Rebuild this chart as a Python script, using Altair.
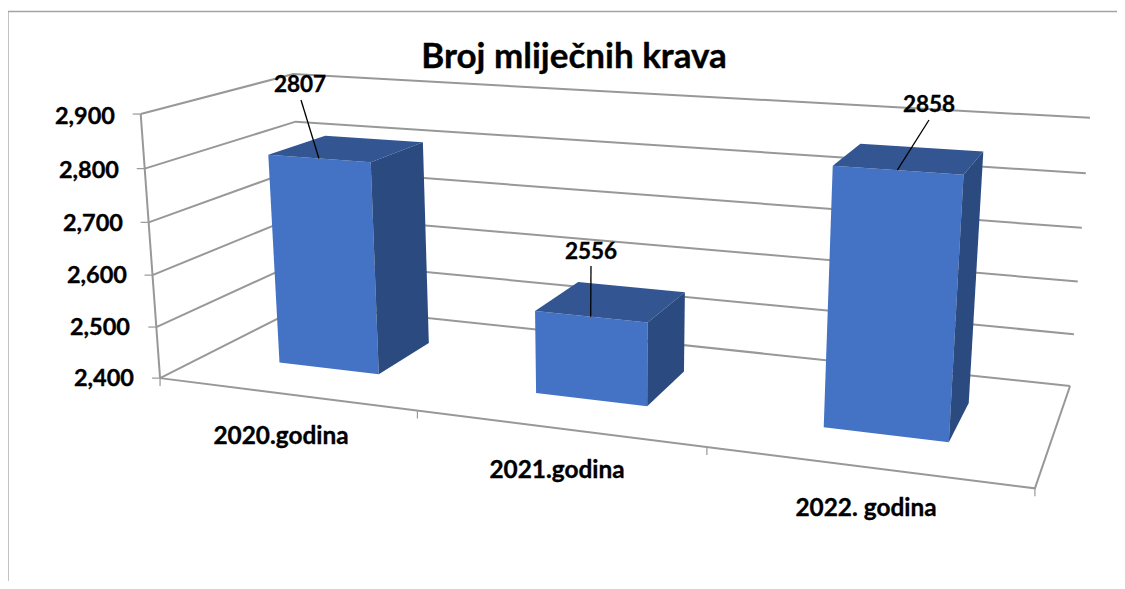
import altair as alt
import numpy as np

TITLE = "Broj mliječnih krava"
categories = ["2020.godina", "2021.godina", "2022. godina"]
values = [2807, 2556, 2858]
axis_ticks = [2400, 2500, 2600, 2700, 2800, 2900]
axis_labels = ["2,400", "2,500", "2,600", "2,700", "2,800", "2,900"]

# --- camera calibration: (category pos, depth, value pos) -> page pixel
cal3d = [(0,0,0),(1,0,0),(1,1,0),(0,1,0),(0,0,1),(0,1,1),(1,1,1),(1/3,0,0),(2/3,0,0)]
cal2d = [(160,378),(1035,488),(1070,386),(305,305),(141,114),(293,74),(1090,118),(417,411),(707,447)]
A, b = [], []
for (u,d,v),(x,y) in zip(cal3d, cal2d):
    A.append([u,d,v,1,0,0,0,0,-x*u,-x*d,-x*v]); b.append(x)
    A.append([0,0,0,0,u,d,v,1,-y*u,-y*d,-y*v]); b.append(y)
p = np.linalg.lstsq(np.array(A,float), np.array(b,float), rcond=None)[0]
P = np.append(p,1.0).reshape(3,4)

def proj(u,d,v):
    q = P @ np.array([u,d,v,1.0])
    return [float(q[0]/q[2]), float(q[1]/q[2])]

def vnorm(val):
    return (val-axis_ticks[0])/(axis_ticks[-1]-axis_ticks[0])

def line(*pts):
    return {"type":"Feature","properties":{},"geometry":{"type":"LineString","coordinates":[list(q) for q in pts]}}

def poly(fill,*pts):
    ring=[list(q) for q in pts]; ring.append(ring[0])
    return {"type":"Feature","properties":{"fill":fill},"geometry":{"type":"Polygon","coordinates":[ring]}}

FRONT,TOP,SIDE = "#4472c4","#335693","#2a4a80"
HALF_W = 0.0667
D0,D1 = 0.30,0.70
GRID = "#989898"

grid=[]
for t in axis_ticks:
    v=vnorm(t)
    grid.append(line(proj(0,0,v),proj(0,1,v),proj(1,1,v)))
grid.append(line(proj(0,0,0),proj(0,0,1)))
grid.append(line(proj(0,0,0),proj(1,0,0),proj(1,1,0)))

ticks=[]
for t in axis_ticks:
    q=proj(0,0,vnorm(t)); ticks.append(line([q[0]-8,q[1]],q))
for i in range(4):
    q=proj(i/3,0,0); ticks.append(line(q,[q[0],q[1]+8]))

faces=[]; leaders=[]
label_pos=[(300,85),(591,252),(929,105)]
label_gap=[(301,100),(591,266),(929,120)]
for i,val in enumerate(values):
    c=(i+.5)/3; u0,u1=c-HALF_W,c+HALF_W; v=vnorm(val)
    faces.append(poly(FRONT,proj(u0,D0,0),proj(u1,D0,0),proj(u1,D0,v),proj(u0,D0,v)))
    faces.append(poly(TOP,proj(u0,D0,v),proj(u1,D0,v),proj(u1,D1,v),proj(u0,D1,v)))
    faces.append(poly(SIDE,proj(u1,D0,0),proj(u1,D1,0),proj(u1,D1,v),proj(u1,D0,v)))
    leaders.append(line(label_gap[i],proj(c,D0,v)))

border=[line([8,589],[8,11.5],[1125,11.5])]

def lines(feats,color,w):
    return alt.Chart(alt.Data(values=feats)).mark_geoshape(filled=False,stroke=color,strokeWidth=w)

def texts(rows,size,align="center"):
    return alt.Chart(alt.Data(values=rows)).mark_text(font="Lato",fontWeight="bold",fontSize=size,align=align,baseline="middle",color="#000000",stroke="#000000",strokeWidth=0.35).encode(
        longitude="x:Q",latitude="y:Q",text="t:N")

axis_right=[134,130,127,123,119,115]
axis_y=[379,328,276,224,171,117]
cat_pos=[(281,437),(557,471),(866,509)]

chart=alt.layer(
    lines(border,"#a3a3a3",1.3),
    lines(grid,GRID,2),
    lines(ticks,GRID,1.2),
    alt.Chart(alt.Data(values=faces)).mark_geoshape(filled=True,strokeWidth=0).encode(fill=alt.Fill("properties.fill:N",scale=None)),
    lines(leaders,"#000000",1.3),
    texts([{"x":574,"y":57,"t":TITLE}],35),
    texts([{"x":x,"y":y,"t":t} for x,y,t in zip(axis_right,axis_y,axis_labels)],23.5,"right"),
    texts([{"x":q[0],"y":q[1],"t":c} for q,c in zip(cat_pos,categories)],24.4),
    texts([{"x":q[0],"y":q[1],"t":str(val)} for q,val in zip(label_pos,values)],22.5),
).project(type="identity",scale=1,translate=[-8,-8]).properties(
    width=1109,height=573,padding=0,autosize="none"
).configure_view(stroke=None)

chart.save("out.html",embed_options={"renderer":"svg","actions":False})
